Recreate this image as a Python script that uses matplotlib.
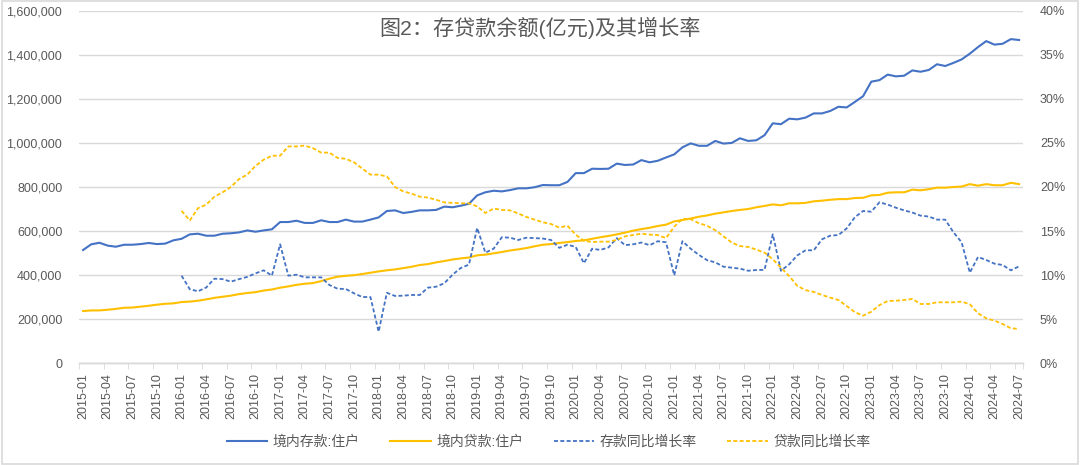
import matplotlib
matplotlib.use("Agg")
import matplotlib.pyplot as plt
import numpy as np
from matplotlib.patches import Rectangle
from matplotlib.ticker import FuncFormatter, FixedLocator

plt.rcParams['font.family'] = ['Liberation Sans', 'Noto Sans CJK SC', 'DejaVu Sans']

# Months 2015-01 .. 2024-07
months = [f"{y}-{m:02d}" for y in range(2015, 2025) for m in range(1, 13)][:115]

# 境内存款:住户 (亿元)
deposits = [
    514000, 540000, 547000, 534000, 529000, 538000, 538000, 541000, 546000, 541000, 543000, 558000,
    565000, 585000, 588000, 579000, 579000, 588000, 590000, 594000, 603000, 597000, 603000, 608000,
    641000, 641000, 647000, 637000, 637000, 649000, 641000, 641000, 652000, 643000, 643000, 652000,
    662000, 691000, 694000, 682000, 687000, 694000, 694000, 696000, 711000, 708000, 715000, 724000,
    762000, 776000, 783000, 780000, 786000, 794000, 794000, 799000, 809000, 808000, 808000, 823000,
    863000, 863000, 883000, 882000, 883000, 906000, 900000, 902000, 922000, 912000, 919000, 934000,
    948000, 980000, 998000, 987000, 987000, 1009000, 997000, 1000000, 1021000, 1009000, 1012000, 1035000,
    1089000, 1085000, 1110000, 1107000, 1115000, 1134000, 1134000, 1145000, 1164000, 1161000, 1186000, 1212000,
    1278000, 1285000, 1310000, 1302000, 1305000, 1329000, 1323000, 1331000, 1357000, 1349000, 1363000, 1379000,
    1405000, 1435000, 1462000, 1446000, 1450000, 1471000, 1467000,
]

# 境内贷款:住户 (亿元)
loans = [
    237000, 240000, 240000, 243000, 247000, 252000, 253000, 257000, 261000, 266000, 270000, 272000,
    278000, 280000, 284000, 290000, 297000, 302000, 307000, 314000, 319000, 323000, 330000, 335000,
    343000, 349000, 356000, 361000, 364000, 373000, 384000, 393000, 397000, 400000, 405000, 411000,
    417000, 422000, 426000, 432000, 438000, 446000, 450000, 458000, 464000, 471000, 476000, 480000,
    490000, 493000, 499000, 505000, 512000, 517000, 523000, 531000, 538000, 541000, 546000, 550000,
    555000, 558000, 565000, 572000, 578000, 585000, 593000, 602000, 609000, 615000, 623000, 629000,
    644000, 650000, 657000, 665000, 671000, 679000, 685000, 691000, 696000, 700000, 708000, 714000,
    721000, 717000, 726000, 726000, 728000, 735000, 738000, 742000, 745000, 745000, 750000, 751000,
    762000, 764000, 774000, 776000, 776000, 788000, 785000, 790000, 797000, 797000, 800000, 802000,
    813000, 806000, 813000, 808000, 808000, 819000, 813000,
]

# 存款同比增长率 (%), from 2016-01
dep_growth = [None] * 12 + [
    9.94, 8.4, 8.17, 8.6, 9.6, 9.55, 9.26, 9.55, 9.8, 10.2, 10.55, 9.94,
    13.5, 9.94, 10.05, 9.75, 9.75, 9.75, 8.88, 8.46, 8.43, 7.94, 7.52, 7.52,
    3.59, 8.0, 7.64, 7.67, 7.75, 7.75, 8.58, 8.69, 9.08, 10.05, 10.81, 11.2,
    15.35, 12.55, 13.0, 14.3, 14.25, 13.99, 14.25, 14.2, 14.15, 13.99, 13.1, 13.45,
    13.2, 11.35, 13.0, 12.86, 13.15, 14.2, 13.4, 13.5, 13.7, 13.4, 13.85, 13.73,
    9.98, 13.85, 13.0, 12.3, 11.7, 11.45, 10.96, 10.85, 10.74, 10.5, 10.58, 10.6,
    14.63, 10.5, 11.23, 12.25, 12.82, 12.82, 14.07, 14.48, 14.55, 15.3, 16.57, 17.28,
    17.2, 18.27, 18.0, 17.65, 17.35, 17.1, 16.75, 16.65, 16.3, 16.3, 14.87, 13.73,
    10.28, 12.06, 11.72, 11.3, 11.15, 10.55, 11.0,
]

# 贷款同比增长率 (%), from 2016-01
loan_growth = [None] * 12 + [
    17.3, 16.2, 17.6, 18.0, 18.9, 19.4, 20.0, 20.9, 21.4, 22.4, 23.1, 23.55,
    23.55, 24.6, 24.6, 24.7, 24.4, 23.9, 23.9, 23.3, 23.2, 22.8, 22.1, 21.4,
    21.4, 21.2, 20.0, 19.5, 19.25, 18.9, 18.8, 18.55, 18.25, 18.2, 18.15, 18.15,
    17.8, 17.05, 17.55, 17.4, 17.35, 17.0, 16.6, 16.3, 16.0, 15.8, 15.4, 15.6,
    14.6, 13.9, 13.76, 13.8, 13.8, 14.0, 14.4, 14.55, 14.7, 14.6, 14.55, 14.2,
    15.5, 16.4, 16.35, 15.9, 15.6, 15.1, 14.4, 13.7, 13.3, 13.2, 12.9, 12.55,
    11.8, 10.85, 9.9, 8.77, 8.3, 8.1, 7.75, 7.45, 7.18, 6.5, 5.8, 5.4,
    5.85, 6.6, 7.07, 7.1, 7.18, 7.3, 6.73, 6.73, 6.92, 6.92, 6.92, 7.0,
    6.7, 5.67, 5.1, 4.84, 4.46, 3.97, 3.9,
]

series_names = ['境内存款:住户', '境内贷款:住户', '存款同比增长率', '贷款同比增长率']
title = '图2：存贷款余额(亿元)及其增长率'

BLUE = '#4472C4'
GOLD = '#FFC000'
GRID = '#D9D9D9'
TXT = '#595959'

x = np.arange(len(months))
dg = np.array([np.nan if v is None else v for v in dep_growth], dtype=float) / 100
lg = np.array([np.nan if v is None else v for v in loan_growth], dtype=float) / 100

fig = plt.figure(figsize=(10.8, 4.65), dpi=100)
fig.patches.append(Rectangle((0.0015, 0.002), 0.997, 0.995, transform=fig.transFigure,
                             fill=False, edgecolor='#D9D9D9', linewidth=1.2))
ax = fig.add_axes([0.0731, 0.2187, 0.8743, 0.7583])
ax2 = ax.twinx()

DASH = (0, (2.2, 1.3))
l1, = ax.plot(x, deposits, color=BLUE, lw=1.5, label=series_names[0])
l2, = ax.plot(x, loans, color=GOLD, lw=1.5, label=series_names[1])
l3, = ax2.plot(x, dg, color=BLUE, lw=1.3, ls=DASH, label=series_names[2])
l4, = ax2.plot(x, lg, color=GOLD, lw=1.3, ls=DASH, label=series_names[3])

ax.set_ylim(0, 1600000)
ax2.set_ylim(0, 0.40)
ax.set_xlim(-0.5, len(months) - 0.5)
ax.set_yticks(np.arange(0, 1600001, 200000))
ax2.set_yticks(np.arange(0, 0.4001, 0.05))
ax.yaxis.set_major_formatter(FuncFormatter(lambda v, p: f"{int(v):,}"))
ax2.yaxis.set_major_formatter(FuncFormatter(lambda v, p: f"{v*100:.0f}%"))

ax.grid(axis='y', color=GRID, lw=1.0)
ax.set_axisbelow(True)
for a in (ax, ax2):
    for s in ('left', 'right', 'top'):
        a.spines[s].set_visible(False)
    a.spines['bottom'].set_color(GRID)
    a.spines['bottom'].set_linewidth(1.0)

lab_idx = list(range(0, len(months), 3))
ax.set_xticks(lab_idx)
ax.set_xticklabels([months[i] for i in lab_idx], rotation=90, fontsize=9, color=TXT)
ax.xaxis.set_minor_locator(FixedLocator([i - 0.5 for i in lab_idx] + [len(months) - 0.5]))
ax.tick_params(axis='x', which='major', length=0, pad=7)
ax.tick_params(axis='x', which='minor', length=4, color=GRID)
ax.tick_params(axis='y', length=0, labelsize=9, labelcolor=TXT, pad=12)
ax2.tick_params(axis='y', length=0, labelsize=9, labelcolor=TXT, pad=12)

fig.text(0.5, 0.94, title, ha='center', va='center', fontsize=15.2, color=TXT)

fig.legend(handles=[l1, l2, l3, l4], loc='center', bbox_to_anchor=(0.508, 0.05), ncol=4,
           frameon=False, fontsize=10, handlelength=2.9, handletextpad=0.4,
           columnspacing=2.2, labelcolor=TXT)

fig.savefig('out.png', dpi=100)
